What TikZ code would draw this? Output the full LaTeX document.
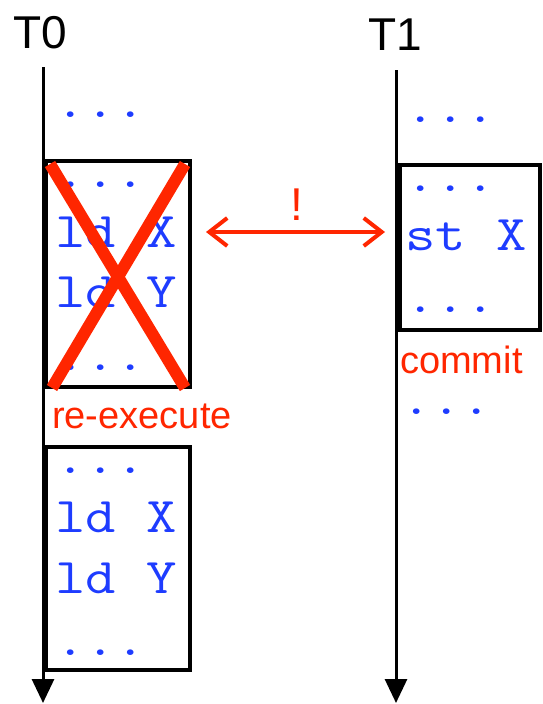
\documentclass[tikz,border=0pt]{standalone}
\usepackage{fontspec}
\setmainfont{Liberation Sans}
\newfontfamily\codefont{Latin Modern Mono}[FakeStretch=1.18]
\usetikzlibrary{arrows.meta}
\definecolor{alertred}{RGB}{255,38,0}
\definecolor{codeblue}{RGB}{30,60,255}
\begin{document}
\begin{tikzpicture}[x=1pt,y=-1pt,
  timeline/.style={line width=3pt,-{Triangle[length=24pt,width=22pt]}},
  txbox/.style={draw,line width=4pt,inner sep=0pt},
  code/.style={font=\fontsize{50}{50}\codefont,text=codeblue,anchor=base west,inner sep=0pt},
  note/.style={font=\fontsize{38}{38}\selectfont,text=alertred,anchor=base west,inner sep=0pt},
  thread/.style={font=\fontsize{46}{46}\selectfont,anchor=base,inner sep=0pt},
  conflict/.style={draw=alertred,line width=4pt,{Straight Barb[length=18pt,width=28pt]}-{Straight Barb[length=18pt,width=28pt]}},
  strike/.style={draw=alertred,line width=12pt},
]
\useasboundingbox (0,0) rectangle (542,704);

% thread names and time lines
\node[thread] (t0) at (40,48) {T0};
\node[thread] (t1) at (395,50) {T1};
\coordinate (t0top) at (43,67);
\coordinate (t0end) at (43,703);
\coordinate (t1top) at (396,70);
\coordinate (t1end) at (396,703);
\draw[timeline] (t0top) -- (t0end);
\draw[timeline] (t1top) -- (t1end);

% transaction boxes
\node[txbox,minimum width=144pt,minimum height=226pt] (b1) at (118,274) {};
\node[txbox,minimum width=144pt,minimum height=223pt] (b2) at (118,558.5) {};
\node[txbox,minimum width=140pt,minimum height=165pt] (b3) at (470,247.5) {};

% T0 code
\node[code] (a0) at (55,117) {...};
\node[code] (a1) at (55,187) {...};
\node[code] (a2) at (55,247) {ld X};
\node[code] (a3) at (55,307) {ld Y};
\node[code] (a4) at (55,370) {...};
\node[code] (c1) at (55,473) {...};
\node[code] (c2) at (55,532) {ld X};
\node[code] (c3) at (55,593) {ld Y};
\node[code] (c4) at (55,655) {...};

% T1 code
\node[code] (d0) at (405,122) {...};
\node[code] (d1) at (405,191) {...};
\node[code] (d2) at (405,250) {st X};
\node[code] (d3) at (405,312) {...};
\node[code] (d4) at (401,414) {...};

% annotations
\node[note] (redo) at (52,428) {re-execute};
\node[note] (commit) at (400,373) {commit};
\node[note,font=\fontsize{46}{46}\selectfont,anchor=base] (bang) at (297,220) {!};

% conflict between the two transactions
\coordinate (cl) at (206,232);
\coordinate (cr) at (385,232);
\draw[conflict] (cl) -- (cr);

% aborted transaction
\draw[strike] (50,164) -- (185,388);
\draw[strike] (185,164) -- (52,388);
\end{tikzpicture}
\end{document}
